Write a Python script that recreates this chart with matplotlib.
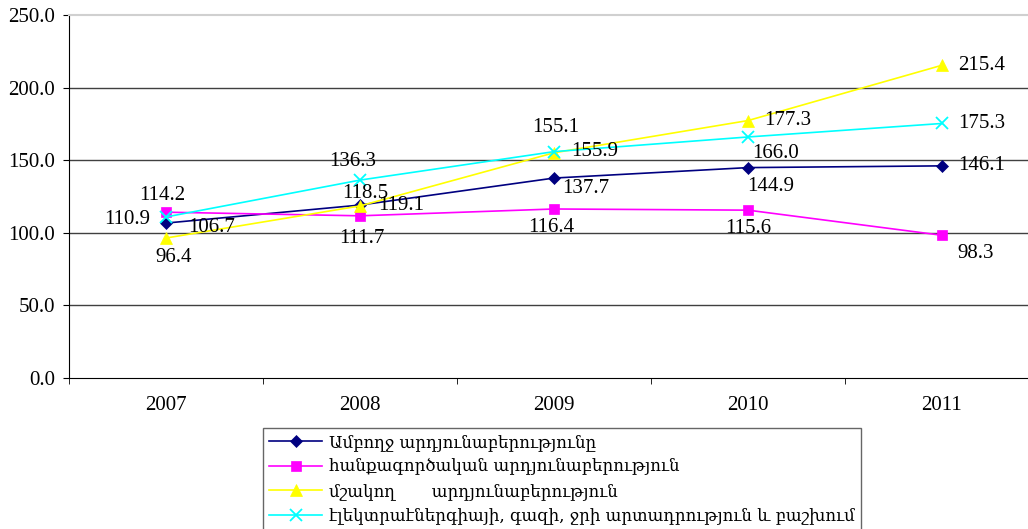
import numpy as np
import matplotlib.pyplot as plt

# Data
years = ['2007', '2008', '2009', '2010', '2011']
total = [106.7, 119.1, 137.7, 144.9, 146.1]
mining = [114.2, 111.7, 116.4, 115.6, 98.3]
manufacturing = [96.4, 118.5, 155.1, 177.3, 215.4]
energy = [110.9, 136.3, 155.9, 166.0, 175.3]
names = ['Ամբողջ արդյունաբերությունը',
         'հանքագործական արդյունաբերություն',
         'մշակող       արդյունաբերություն',
         'էլեկտրաէներգիայի, գազի, ջրի արտադրություն և բաշխում']

# label offsets in pixels (dx, dy) relative to each marker
off_total = [(46, -4), (41, 0), (32, -10), (23, -19), (40, 0)]
off_mining = [(-4, 17), (2, -23), (-3, -19), (0, -18), (34, -18)]
off_manuf = [(8, -19), (5, 12), (2, 25), (40, 0), (40, 0)]
off_energy = [(-39, -3), (-7, 19), (41, 0), (28, -17), (40, 0)]

num_font = 'Liberation Serif'

fig = plt.figure(figsize=(10.28, 5.29), dpi=100)
ax = fig.add_axes([69/1028, 151/529, 970/1028, 363/529])

x = np.arange(len(years))
series = [
    (total, '#000080', 'D', 6.5, off_total),
    (mining, '#FF00FF', 's', 7, off_mining),
    (manufacturing, '#FFFF00', '^', 8.5, off_manuf),
    (energy, '#00FFFF', 'x', 8, off_energy),
]
for (vals, col, mk, ms, offs), name in zip(series, names):
    ax.plot(x, vals, color=col, marker=mk, markersize=ms, lw=1.2,
            markeredgewidth=1.3 if mk == 'x' else 0.5, label=name)
    for xi, v, (dx, dy) in zip(x, vals, offs):
        ax.annotate('%.1f' % v, (xi, v), xytext=(dx, dy), textcoords='offset pixels',
                    ha='center', va='center', fontsize=15, family=num_font, color='black')

ax.set_xlim(-0.5, 4.5)
ax.set_ylim(0, 250)
ax.set_yticks(np.arange(0, 251, 50))
ax.set_yticklabels(['%.1f' % t for t in np.arange(0, 251, 50)], family=num_font, fontsize=15)
ax.set_xticks(x)
ax.set_xticklabels(years, family=num_font, fontsize=15)
ax.set_xticks(np.arange(-0.5, 5, 1), minor=True)
ax.tick_params(axis='x', which='major', length=0, pad=13)
ax.tick_params(axis='x', which='minor', length=4, direction='out')
ax.tick_params(axis='y', length=4, direction='out', pad=6)

for g in [50, 100, 150, 200]:
    ax.axhline(g, color='#404040', lw=1, zorder=0)
ax.spines['top'].set_color('#d0d0d0')
ax.spines['top'].set_linewidth(1.5)
ax.spines['right'].set_visible(False)
ax.spines['left'].set_color('black')
ax.spines['bottom'].set_color('black')

leg = fig.legend(loc='upper left', bbox_to_anchor=(263/1028, 1 - 428/529),
                 prop={'family': ['DejaVu Serif', 'DejaVu Sans'], 'size': 12},
                 frameon=True, fancybox=False, labelspacing=0.45, handlelength=3.2,
                 handletextpad=0.4, borderpad=0.35, borderaxespad=0)
leg.get_frame().set_edgecolor('#404040')
leg.get_frame().set_linewidth(1)

fig.savefig('out.png', dpi=100)
